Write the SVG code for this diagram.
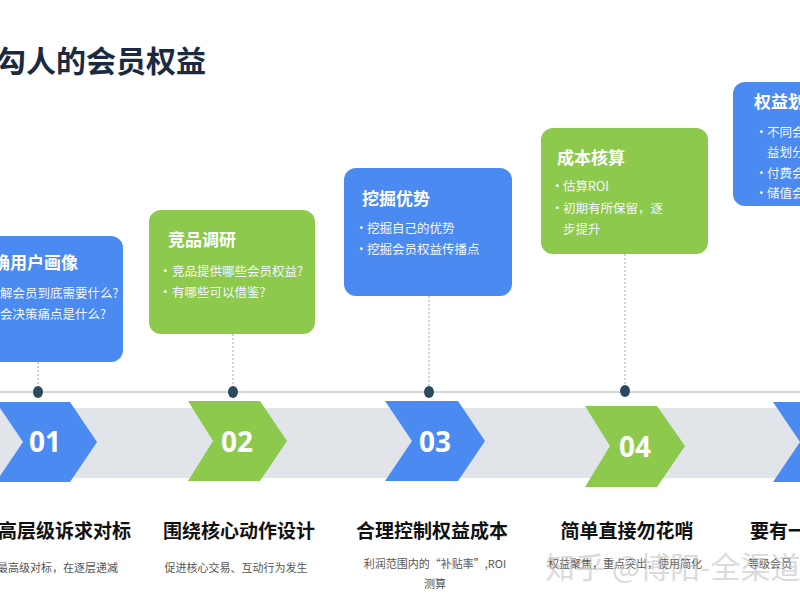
<svg xmlns="http://www.w3.org/2000/svg" width="800" height="600" viewBox="0 0 800 600">
<style>
text{font-family:"Noto Sans CJK SC","Noto Sans",sans-serif}
.blue{fill:#4b8af0}
.green{fill:#8cc94c}
.ct{fill:#fff;font-size:17px;font-weight:700}
.cb{fill:#f4f8ff;font-size:12.5px}
.num{fill:#fff;font-family:"Open Sans","Noto Sans",sans-serif;font-size:28px;font-weight:700;text-anchor:middle}
.hd{fill:#111;font-size:19px;font-weight:700}
.sub{fill:#555;font-size:11px}
.lead{stroke:#9aa3ab;stroke-width:1;stroke-dasharray:2 2;fill:none}
.dot{fill:#2c4a5e}
</style>
<rect width="800" height="600" fill="#fff"/>
<text x="-4" y="72" style="fill:#1b2a41;font-size:30px;font-weight:700">勾人的会员权益</text>

<g id="band">
<rect x="0" y="408" width="800" height="70" fill="#e1e4e9"/>
<line x1="0" y1="392" x2="800" y2="392" stroke="#c4c8cc" stroke-width="1.5"/>
</g>

<g id="connectors">
<line class="lead" x1="38" y1="362" x2="38" y2="392"/>
<line class="lead" x1="233" y1="334" x2="233" y2="392"/>
<line class="lead" x1="429" y1="296" x2="429" y2="392"/>
<line class="lead" x1="625" y1="254" x2="625" y2="392"/>
<ellipse class="dot" cx="38" cy="392" rx="5" ry="6"/>
<ellipse class="dot" cx="233" cy="392" rx="5" ry="6"/>
<ellipse class="dot" cx="429" cy="392" rx="5" ry="6"/>
<ellipse class="dot" cx="625" cy="391" rx="5" ry="6"/>
</g>

<g id="card1">
<rect class="blue" x="-40" y="236" width="163" height="126" rx="12"/>
<text class="ct" x="-7" y="269">确用户画像</text>
<text class="cb" x="0" y="298">解会员到底需要什么?</text>
<text class="cb" x="0" y="319">会决策痛点是什么?</text>
</g>

<g id="card2">
<rect class="green" x="149" y="210" width="166" height="124" rx="12"/>
<text class="ct" x="168" y="246">竞品调研</text>
<text class="cb" x="159" y="276">•</text><text class="cb" x="172" y="276">竞品提供哪些会员权益?</text>
<text class="cb" x="159" y="297">•</text><text class="cb" x="172" y="297">有哪些可以借鉴?</text>
</g>

<g id="card3">
<rect class="blue" x="344" y="168" width="168" height="128" rx="12"/>
<text class="ct" x="362" y="205">挖掘优势</text>
<text class="cb" x="355" y="233">•</text><text class="cb" x="367" y="233">挖掘自己的优势</text>
<text class="cb" x="355" y="254">•</text><text class="cb" x="367" y="254">挖掘会员权益传播点</text>
</g>

<g id="card4">
<rect class="green" x="541" y="128" width="167" height="126" rx="12"/>
<text class="ct" x="557" y="164">成本核算</text>
<text class="cb" x="551" y="191">•</text><text class="cb" x="563" y="191">估算ROI</text>
<text class="cb" x="551" y="213">•</text><text class="cb" x="563" y="213">初期有所保留，逐</text>
<text class="cb" x="563" y="234">步提升</text>
</g>

<g id="card5">
<rect class="blue" x="733" y="82" width="120" height="124" rx="12"/>
<text class="ct" x="754" y="108">权益划</text>
<text class="cb" x="755" y="137">•</text><text class="cb" x="767" y="137">不同会</text>
<text class="cb" x="767" y="157">益划分</text>
<text class="cb" x="755" y="178">•</text><text class="cb" x="767" y="178">付费会</text>
<text class="cb" x="755" y="198">•</text><text class="cb" x="767" y="198">储值会</text>
</g>

<g id="step1">
<polygon class="blue" points="-4,402 70,402 97,442 70,482 -4,482 23,442"/>
<text class="num" x="45" y="452">01</text>
<text class="hd" x="-2" y="538">高层级诉求对标</text>
<text class="sub" x="-3" y="572">最高级对标，在逐层递减</text>
</g>

<g id="step2">
<polygon class="green" points="188,401 260,401 287,441 260,481 188,481 213,441"/>
<text class="num" x="237" y="452">02</text>
<text class="hd" x="239" y="538" text-anchor="middle">围绕核心动作设计</text>
<text class="sub" x="236" y="572" text-anchor="middle">促进核心交易、互动行为发生</text>
</g>

<g id="step3">
<polygon class="blue" points="385,401 458,401 485,441 458,481 385,481 412,441"/>
<text class="num" x="435" y="452">03</text>
<text class="hd" x="432" y="538" text-anchor="middle">合理控制权益成本</text>
<text class="sub" x="435" y="568" text-anchor="middle">利润范围内的“补贴率”,ROI</text>
<text class="sub" x="435" y="588" text-anchor="middle">测算</text>
</g>

<g id="step4">
<polygon class="green" points="585,406 657,406 685,446 657,487 585,487 610,446"/>
<text class="num" x="635" y="457">04</text>
<text class="hd" x="627" y="538" text-anchor="middle">简单直接勿花哨</text>
<text class="sub" x="625" y="568" text-anchor="middle">权益聚焦，重点突出，使用简化</text>
</g>

<g id="step5">
<polygon class="blue" points="773,402 850,402 877,442 850,482 773,482 800,442"/>
<text class="hd" x="750" y="538">要有一</text>
<text class="sub" x="748" y="568">等级会员</text>
</g>

<text x="545" y="578" style="fill:#b8b8b8;opacity:0.5;font-size:30px">知乎 @博阳-全渠道</text>
</svg>
